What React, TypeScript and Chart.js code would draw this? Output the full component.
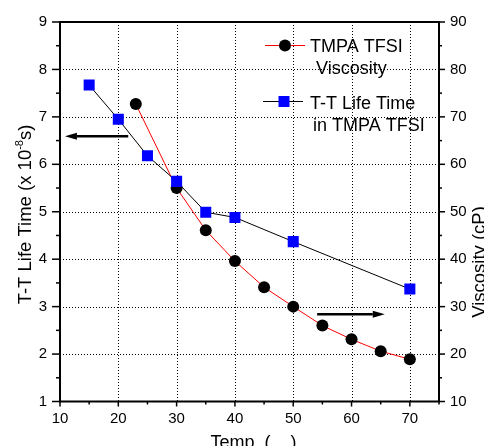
import React, { useEffect, useRef } from 'react';
import { Chart, registerables } from 'chart.js';

Chart.register(...registerables);

// ---------- data ----------
const lifeTemps = [15, 20, 25, 30, 35, 40, 50, 70];
const lifeValues = [7.67, 6.95, 6.18, 5.64, 4.99, 4.88, 4.37, 3.37];
const viscTemps = [23, 30, 35, 40, 45, 50, 55, 60, 65, 70];
const viscValues = [72.7, 55.0, 46.1, 39.6, 34.1, 30.0, 26.0, 23.1, 20.6, 18.9];

const xTickLabels = [10, 20, 30, 40, 50, 60, 70];
const leftTickLabels = [1, 2, 3, 4, 5, 6, 7, 8, 9];
const rightTickLabels = [10, 20, 30, 40, 50, 60, 70, 80, 90];

const xRange = [10, 75];
const leftRange = [1, 9];
const rightRange = [10, 90];

// annotation arrows (data units): [x0, x1, y]
const lifeArrow = [21.7, 10.85, 6.59];
const viscArrow = [54.1, 65.7, 28.4];

const legendVisc = ['TMPA TFSI', 'Viscosity'];
const legendLife = ['T-T Life Time', 'in TMPA TFSI'];
const xTitle = 'Temp. (    )';
const yTitleParts = ['T-T Life Time (x 10', '-8', 's)'];
const y1Title = 'Viscosity (cP)';

const FONT = "'Liberation Sans', Arial, Helvetica, sans-serif";

function range(a: number, b: number, s: number) {
  const out: number[] = [];
  for (let v = a; v <= b + 1e-9; v += s) out.push(Math.round(v * 1000) / 1000);
  return out;
}

function seg(ctx: CanvasRenderingContext2D, x0: number, y0: number, x1: number, y1: number) {
  ctx.beginPath();
  ctx.moveTo(x0, y0);
  ctx.lineTo(x1, y1);
  ctx.stroke();
}

function arrow(ctx: CanvasRenderingContext2D, x0: number, x1: number, y: number) {
  const dir = Math.sign(x1 - x0);
  const head = 12;
  ctx.save();
  ctx.strokeStyle = '#000';
  ctx.fillStyle = '#000';
  ctx.lineWidth = 2.5;
  seg(ctx, x0, y, x1 - dir * head, y);
  ctx.beginPath();
  ctx.moveTo(x1, y);
  ctx.lineTo(x1 - dir * head, y - 3.5);
  ctx.lineTo(x1 - dir * head, y + 3.5);
  ctx.closePath();
  ctx.fill();
  ctx.restore();
}

const decorPlugin = {
  id: 'decor',
  beforeDatasetsDraw(chart: any) {
    const { ctx, chartArea: a, scales } = chart;
    ctx.save();
    ctx.strokeStyle = '#000';
    ctx.lineWidth = 1;
    ctx.setLineDash([1, 2]);
    xTickLabels.filter((v) => v > xRange[0] && v < xRange[1]).forEach((v) => {
      const px = Math.round(scales.x.getPixelForValue(v)) + 0.5;
      seg(ctx, px, a.top, px, a.bottom);
    });
    leftTickLabels.filter((v) => v > leftRange[0] && v < leftRange[1]).forEach((v) => {
      const py = Math.round(scales.y.getPixelForValue(v)) + 0.5;
      seg(ctx, a.left, py, a.right, py);
    });
    ctx.restore();
  },
  afterDatasetsDraw(chart: any) {
    const { ctx, chartArea: a, scales } = chart;
    ctx.save();
    // frame
    ctx.strokeStyle = '#000';
    ctx.lineWidth = 2;
    ctx.strokeRect(a.left, a.top, a.right - a.left, a.bottom - a.top);
    // ticks
    ctx.lineWidth = 1.5;
    range(xRange[0], xRange[1], 5).forEach((v) => {
      const px = scales.x.getPixelForValue(v);
      const len = v % 10 === 0 ? 5 : 3;
      seg(ctx, px, a.bottom, px, a.bottom + len);
    });
    range(leftRange[0], leftRange[1], 0.5).forEach((v) => {
      const py = scales.y.getPixelForValue(v);
      const len = Number.isInteger(v) ? 8 : 4;
      seg(ctx, a.left - len, py, a.left, py);
    });
    range(rightRange[0], rightRange[1], 5).forEach((v) => {
      const py = scales.y1.getPixelForValue(v);
      const len = v % 10 === 0 ? 6 : 3;
      seg(ctx, a.right, py, a.right + len, py);
    });
    // arrows
    arrow(ctx, scales.x.getPixelForValue(lifeArrow[0]), scales.x.getPixelForValue(lifeArrow[1]), scales.y.getPixelForValue(lifeArrow[2]));
    arrow(ctx, scales.x.getPixelForValue(viscArrow[0]), scales.x.getPixelForValue(viscArrow[1]), scales.y1.getPixelForValue(viscArrow[2]));

    // legend
    ctx.fillStyle = '#000';
    ctx.font = `18px ${FONT}`;
    ctx.textAlign = 'left';
    ctx.textBaseline = 'alphabetic';
    // item 1
    ctx.strokeStyle = '#ff0000';
    ctx.lineWidth = 1;
    seg(ctx, 265, 45.5, 305, 45.5);
    ctx.beginPath();
    ctx.arc(285, 45.5, 6, 0, Math.PI * 2);
    ctx.fillStyle = '#000';
    ctx.fill();
    ctx.fillText(legendVisc[0], 310, 52);
    ctx.fillText(legendVisc[1], 316, 74);
    // item 2
    ctx.strokeStyle = '#000';
    seg(ctx, 263, 101.5, 303, 101.5);
    ctx.fillStyle = '#0000ff';
    ctx.fillRect(278.5, 96, 11, 11);
    ctx.fillStyle = '#000';
    ctx.fillText(legendLife[0], 310, 109);
    ctx.fillText(legendLife[1], 313, 131);

    // x title
    ctx.font = `18px ${FONT}`;
    ctx.textAlign = 'center';
    ctx.fillText(xTitle, (a.left + a.right) / 2 + 4, 448);

    // left title with superscript
    ctx.save();
    ctx.translate(30.5, 214.5);
    ctx.rotate(-Math.PI / 2);
    ctx.textAlign = 'left';
    const big = `18.5px ${FONT}`;
    const small = `11px ${FONT}`;
    ctx.font = big;
    const w1 = ctx.measureText(yTitleParts[0]).width;
    const w3 = ctx.measureText(yTitleParts[2]).width;
    ctx.font = small;
    const w2 = ctx.measureText(yTitleParts[1]).width;
    let cx = -(w1 + w2 + w3) / 2;
    ctx.font = big;
    ctx.fillText(yTitleParts[0], cx, 0);
    cx += w1;
    ctx.font = small;
    ctx.fillText(yTitleParts[1], cx, -8);
    cx += w2;
    ctx.font = big;
    ctx.fillText(yTitleParts[2], cx, 0);
    ctx.restore();

    // right title
    ctx.save();
    ctx.translate(485, 262);
    ctx.rotate(-Math.PI / 2);
    ctx.textAlign = 'center';
    ctx.font = `18.5px ${FONT}`;
    ctx.fillText(y1Title, 0, 0);
    ctx.restore();

    ctx.restore();
  },
};

export default function App() {
  const ref = useRef<HTMLCanvasElement | null>(null);

  useEffect(() => {
    document.body.style.margin = '0';
    const canvas = ref.current;
    if (!canvas) return;
    const tickFont = { family: FONT, size: 15 };
    const chart = new Chart(canvas, {
      type: 'scatter',
      data: {
        datasets: [
          {
            label: 'T-T Life Time in TMPA TFSI',
            data: lifeTemps.map((t, i) => ({ x: t, y: lifeValues[i] })),
            yAxisID: 'y',
            showLine: true,
            borderColor: '#000000',
            borderWidth: 1,
            pointStyle: 'rect',
            pointRadius: 7.8,
            pointHoverRadius: 7.8,
            pointBackgroundColor: '#0000ff',
            pointBorderColor: '#0000ff',
            pointBorderWidth: 0,
          },
          {
            label: 'TMPA TFSI Viscosity',
            data: viscTemps.map((t, i) => ({ x: t, y: viscValues[i] })),
            yAxisID: 'y1',
            showLine: true,
            borderColor: '#ff0000',
            borderWidth: 1,
            pointStyle: 'circle',
            pointRadius: 6,
            pointHoverRadius: 6,
            pointBackgroundColor: '#000000',
            pointBorderColor: '#000000',
            pointBorderWidth: 0,
          },
        ],
      },
      options: {
        responsive: false,
        animation: false,
        events: [],
        layout: { padding: { top: 22, left: 0, right: 0, bottom: 0 } },
        plugins: { legend: { display: false }, tooltip: { enabled: false } },
        scales: {
          x: {
            type: 'linear',
            position: 'bottom',
            min: xRange[0],
            max: xRange[1],
            afterBuildTicks: (s: any) => {
              s.ticks = xTickLabels.map((v) => ({ value: v }));
            },
            afterFit: (s: any) => {
              s.height = 44.5;
            },
            ticks: { font: tickFont, color: '#000', padding: 8, maxRotation: 0, autoSkip: false },
            grid: { display: false, drawTicks: false, tickLength: 0 },
            border: { display: false },
          },
          y: {
            type: 'linear',
            position: 'left',
            min: leftRange[0],
            max: leftRange[1],
            afterBuildTicks: (s: any) => {
              s.ticks = leftTickLabels.map((v) => ({ value: v }));
            },
            afterFit: (s: any) => {
              s.width = 60;
            },
            ticks: { font: tickFont, color: '#000', padding: 13, autoSkip: false },
            grid: { display: false, drawTicks: false, tickLength: 0 },
            border: { display: false },
          },
          y1: {
            type: 'linear',
            position: 'right',
            min: rightRange[0],
            max: rightRange[1],
            afterBuildTicks: (s: any) => {
              s.ticks = rightTickLabels.map((v) => ({ value: v }));
            },
            afterFit: (s: any) => {
              s.width = 45;
            },
            ticks: { font: tickFont, color: '#000', padding: 11, autoSkip: false },
            grid: { display: false, drawTicks: false, tickLength: 0 },
            border: { display: false },
          },
        },
      },
      plugins: [decorPlugin],
    } as any);
    return () => chart.destroy();
  }, []);

  return (
    <canvas
      ref={ref}
      width={484}
      height={446}
      style={{ display: 'block', width: 484, height: 446 }}
    />
  );
}
